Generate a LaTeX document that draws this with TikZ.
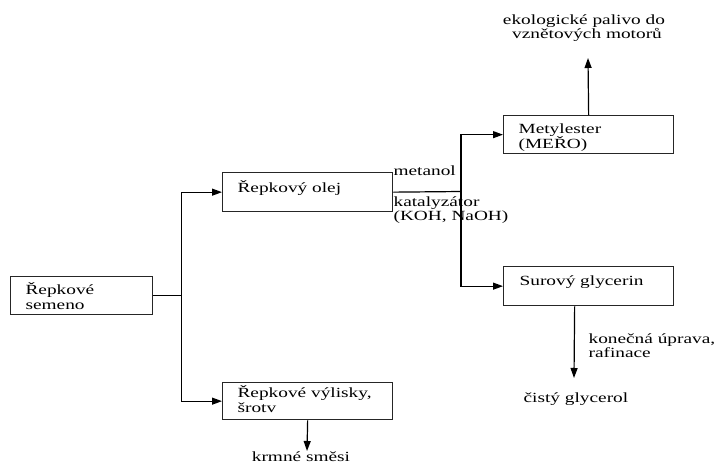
\documentclass[tikz,border=0pt]{standalone}
\usepackage{fontspec}
\setmainfont{Liberation Serif}[FakeStretch=1.38]
\usetikzlibrary{arrows.meta,calc}
\begin{document}
\begin{tikzpicture}[x=1pt,y=-1pt,
  line width=1.2pt,
  box/.style={draw=black!85, line width=1.3pt, rectangle, inner sep=0pt, anchor=north west},
  txt/.style={inner sep=0pt, anchor=base west, font=\fontsize{14}{15}\selectfont},
  ctxt/.style={inner sep=0pt, anchor=base, font=\fontsize{14}{15}\selectfont},
  arr/.style={-{Triangle[length=10pt,width=7pt]}},
]
\useasboundingbox (0,0) rectangle (716,464);

% boxes
\node[box, minimum width=142pt, minimum height=38pt] (semeno) at (10,276) {};
\node[box, minimum width=170pt, minimum height=39pt] (olej) at (222,172) {};
\node[box, minimum width=170pt, minimum height=38pt] (mero) at (503,115) {};
\node[box, minimum width=170pt, minimum height=39pt] (glyc) at (503,266) {};
\node[box, minimum width=170pt, minimum height=37pt] (vylisky) at (222,382) {};

% box texts
\node[txt] (semenoT1) at (25,294) {Řepkové};
\node[txt] (semenoT2) at (25,309) {semeno};
\node[txt] (olejT) at (237,192) {Řepkový olej};
\node[txt] (meroT1) at (518,133) {Metylester};
\node[txt] (meroT2) at (518,148) {(MEŘO)};
\node[txt] (glycT) at (519,285) {Surový glycerin};
\node[txt] (vyliskyT1) at (237,397) {Řepkové výlisky,};
\node[txt] (vyliskyT2) at (237,412) {šrotv};

% free texts
\node[ctxt] (eko1) at (584,24) {ekologické palivo do};
\node[ctxt] (eko2) at (587,38) {vznětových motorů};
\node[txt] (metanol) at (393,175) {metanol};
\node[txt] (kat1) at (393,206) {katalyzátor};
\node[txt] (kat2) at (393,220) {(KOH, NaOH)};
\node[txt] (upr1) at (588,343) {konečná úprava,};
\node[txt] (upr2) at (588,357) {rafinace};
\node[txt] (cisty) at (523,402) {čistý glycerol};
\node[ctxt] (krmne) at (301,461.5) {krmné směsi};

% connectors
\draw (semeno.east) -- ++(28,0) coordinate (j1);
\draw[arr] (j1) |- (olej.west);
\draw[arr] (j1) |- (vylisky.west);

\draw (olej.east) -- (461,191.5) coordinate (j2);
\draw[arr] (j2) |- (mero.west);
\draw[arr] (j2) |- (glyc.west);

\coordinate (ekoTip) at (588,58);
\draw[arr] (mero.north) -- (ekoTip);

\coordinate (krmTip) at (307,451);
\draw[arr] (vylisky.south) -- (krmTip);

\coordinate (glycOut) at ($(glyc.south)+(-14,0)$);
\coordinate (glycTip) at (574,378);
\draw[arr] (glycOut) -- (glycTip);
\end{tikzpicture}
\end{document}
